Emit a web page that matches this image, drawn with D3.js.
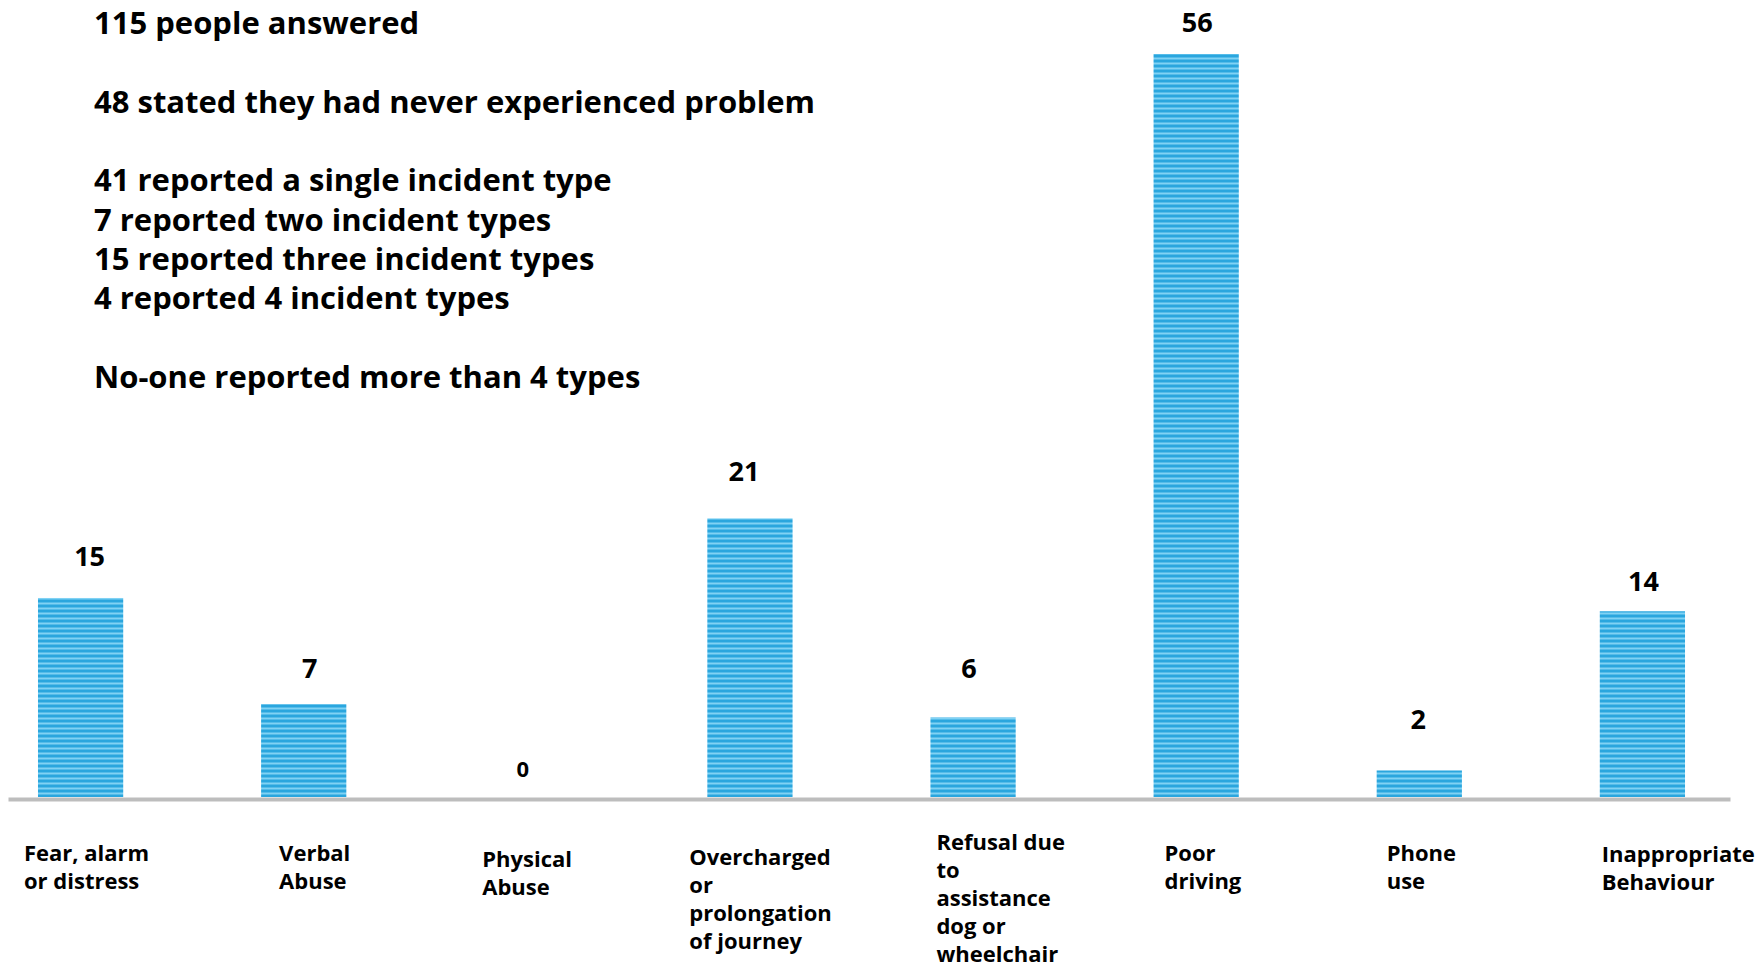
<!DOCTYPE html>
<html>
<head>
<meta charset="utf-8">
<script src="https://cdn.jsdelivr.net/npm/d3@7"></script>
<style>
  html, body { margin: 0; padding: 0; background: #fff; }
  svg { display: block; }
  text { font-family: "Open Sans", "Noto Sans", sans-serif; font-weight: 700; fill: #000; }
</style>
</head>
<body>
<svg id="chart" width="1762" height="967"></svg>
<script>
// ---- data ----
const categories = [
  ["Fear, alarm", "or distress"],
  ["Verbal", "Abuse"],
  ["Physical", "Abuse"],
  ["Overcharged", "or", "prolongation", "of journey"],
  ["Refusal due", "to", "assistance", "dog or", "wheelchair"],
  ["Poor", "driving"],
  ["Phone", "use"],
  ["Inappropriate", "Behaviour"]
];
const counts = [15, 7, 0, 21, 6, 56, 2, 14];
const notes = [
  "115 people answered",
  "",
  "48 stated they had never experienced problem",
  "",
  "41 reported a single incident type",
  "7 reported two incident types",
  "15 reported three incident types",
  "4 reported 4 incident types",
  "",
  "No-one reported more than 4 types"
];

// ---- layout / style tweaks (not data) ----
const labelDx = [-14, 18, -2, -18, 6, 11, 10, 2];
const labelBase = [861, 861, 867, 865, 850, 861, 861, 862];
const valueLift = [32, 26, 20, 37, 39, 22, 41, 20];
const valueDx = [9, 6, -4, -6, -4, 1, -1, 1];

const svg = d3.select("#chart");
const keys = categories.map((c, i) => i);

const x = d3.scaleBand()
  .domain(keys)
  .range([8, 1730])
  .paddingInner(0.618)
  .paddingOuter(0.168)
  .align(0.4);

const y = d3.scaleLinear().domain([0, 56]).range([797, 54]);

// stripe pattern
const defs = svg.append("defs");
const pat = defs.append("pattern")
  .attr("id", "stripes")
  .attr("patternUnits", "userSpaceOnUse")
  .attr("width", 8).attr("height", 5);
pat.append("rect").attr("width", 8).attr("height", 5).attr("fill", "#2aa6de");
pat.append("rect").attr("y", 2.5).attr("width", 8).attr("height", 2).attr("fill", "#80d2f4");

// bars
svg.append("g").selectAll("rect")
  .data(counts)
  .join("rect")
  .attr("x", (d, i) => x(i))
  .attr("y", d => y(d))
  .attr("width", x.bandwidth())
  .attr("height", d => y(0) - y(d))
  .attr("fill", "url(#stripes)");

// axis baseline
const axis = d3.axisBottom(x).tickSize(0).tickFormat("");
const axisG = svg.append("g")
  .attr("transform", `translate(0,${y(0) + 2})`)
  .call(axis);
axisG.select(".domain").attr("stroke", "#bdbdbd").attr("stroke-width", 4);

// value labels
svg.append("g").selectAll("text")
  .data(counts)
  .join("text")
  .attr("x", (d, i) => x(i) + x.bandwidth() / 2 + valueDx[i])
  .attr("y", (d, i) => y(d) - valueLift[i])
  .attr("text-anchor", "middle")
  .style("font-size", (d) => d === 0 ? "22px" : "27px")
  .text(d => d);

// category labels
const catG = svg.append("g");
categories.forEach((lines, i) => {
  const t = catG.append("text")
    .attr("x", x(i) + labelDx[i])
    .attr("y", labelBase[i])
    .style("font-size", "22px");
  lines.forEach((ln, j) => {
    t.append("tspan")
      .attr("x", x(i) + labelDx[i])
      .attr("dy", j === 0 ? 0 : 28)
      .text(ln);
  });
});

// annotation block
const noteG = svg.append("g");
notes.forEach((ln, j) => {
  if (!ln) return;
  noteG.append("text")
    .attr("x", 94)
    .attr("y", 34 + j * 39.3)
    .style("font-size", "31px")
    .text(ln);
});
</script>
</body>
</html>
